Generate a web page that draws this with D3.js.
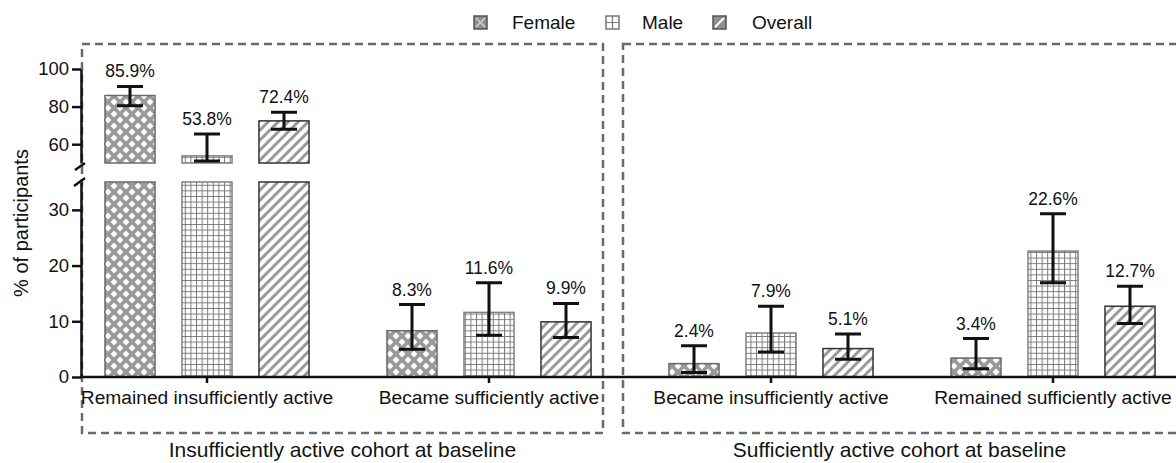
<!DOCTYPE html>
<html>
<head>
<meta charset="utf-8">
<script src="https://cdn.jsdelivr.net/npm/d3@7"></script>
<style>
  body { margin: 0; background: #fff; }
  text { font-family: "Liberation Sans", Arial, sans-serif; fill: #111; }
</style>
</head>
<body>
<div id="chart"></div>
<script>
// data
const categories = ["Remained insufficiently active", "Became sufficiently active",
                    "Became insufficiently active", "Remained sufficiently active"];
const series = ["Female", "Male", "Overall"];
const female = [85.9, 8.3, 2.4, 3.4];
const male = [53.8, 11.6, 7.9, 22.6];
const overall = [72.4, 9.9, 5.1, 12.7];
const femaleLo = [80.5, 5.0, 0.8, 1.5], femaleHi = [90.7, 13.0, 5.6, 6.9];
const maleLo = [51.0, 7.5, 4.5, 16.9], maleHi = [65.4, 16.9, 12.7, 29.3];
const overallLo = [67.9, 7.1, 3.2, 9.6], overallHi = [77.0, 13.2, 7.7, 16.3];
const cohorts = ["Insufficiently active cohort at baseline", "Sufficiently active cohort at baseline"];
const upperTicks = [60, 80, 100];
const lowerTicks = [0, 10, 20, 30];

const W = 1176, H = 463;

const svg = d3.select("#chart").append("svg")
    .attr("width", W).attr("height", H)
    .attr("viewBox", `0 0 ${W} ${H}`);

// table built from the arrays
const vals = { Female: female, Male: male, Overall: overall };
const los = { Female: femaleLo, Male: maleLo, Overall: overallLo };
const his = { Female: femaleHi, Male: maleHi, Overall: overallHi };
const rows = [];
categories.forEach((c, i) => series.forEach(s => rows.push({
    cat: c, s: s, v: vals[s][i], lo: los[s][i], hi: his[s][i]
})));

// scales: broken y axis (0-35 below, 50-100 above)
const axisX = 81;
const yLow = d3.scaleLinear().domain([0, 35]).range([377, 182]);
const yUp = d3.scaleLinear().domain([50, 100]).range([163, 69]);
const y = v => v > 35 ? yUp(Math.max(v, 50)) : yLow(v);

const x0 = d3.scaleBand().domain(categories).range([66, 1194]);
const x1 = d3.scaleBand().domain(series).range([-115.5, 115.5]).paddingInner(0.35).paddingOuter(0.175);
const cx = d => x0(d.cat) + x0.bandwidth() / 2;

// patterns
const defs = svg.append("defs");
const pf = defs.append("pattern").attr("id", "pf").attr("patternUnits", "userSpaceOnUse")
    .attr("width", 12).attr("height", 12);
pf.append("rect").attr("width", 12).attr("height", 12).attr("fill", "#999");
pf.append("path").attr("fill", "#fff")
    .attr("d", [[6, 6], [0, 0], [12, 0], [0, 12], [12, 12]]
        .map(([a, b]) => `M${a},${b - 3.4}L${a + 3.4},${b}L${a},${b + 3.4}L${a - 3.4},${b}Z`).join(""));

const pm = defs.append("pattern").attr("id", "pm").attr("patternUnits", "userSpaceOnUse")
    .attr("width", 5.6).attr("height", 5.6);
pm.append("rect").attr("width", 5.6).attr("height", 5.6).attr("fill", "#fff");
pm.append("path").attr("d", "M0.5,0V5.6M0,0.5H5.6").attr("stroke", "#7a7a7a").attr("stroke-width", 1);

const po = defs.append("pattern").attr("id", "po").attr("patternUnits", "userSpaceOnUse")
    .attr("width", 10).attr("height", 10);
po.append("rect").attr("width", 10).attr("height", 10).attr("fill", "#fff");
po.append("path").attr("d", "M-2,2L2,-2M0,10L10,0M8,12L12,8")
    .attr("stroke", "#999").attr("stroke-width", 3);

const fills = { Female: "url(#pf)", Male: "url(#pm)", Overall: "url(#po)" };
const strokes = { Female: "#6a6a6a", Male: "#808080", Overall: "#333" };

// dashed cohort boxes
const boxes = [[82, 603], [623, W + 10]];
svg.selectAll(".box").data(boxes).join("rect").attr("class", "box")
    .attr("x", d => d[0]).attr("y", 44)
    .attr("width", d => d[1] - d[0]).attr("height", 389)
    .attr("fill", "none").attr("stroke", "#6b6b6b")
    .attr("stroke-width", 2.5).attr("stroke-dasharray", "8,5");

svg.selectAll(".cohort").data(cohorts).join("text").attr("class", "cohort")
    .attr("x", (d, i) => (boxes[i][0] + Math.min(boxes[i][1], W)) / 2)
    .attr("y", 457).attr("text-anchor", "middle")
    .style("font-size", "21px").text(d => d);

// bars (two parts where the value crosses the break)
const bars = svg.append("g");
rows.forEach(d => {
    const bx = cx(d) + x1(d.s);
    const parts = d.v > 35 ? [[0, 35], [50, d.v]] : [[0, d.v]];
    parts.forEach(([a, b]) => {
        const sc = a >= 50 ? yUp : yLow;
        bars.append("rect")
            .attr("x", bx).attr("width", x1.bandwidth())
            .attr("y", sc(b)).attr("height", sc(a) - sc(b))
            .attr("fill", fills[d.s]).attr("stroke", strokes[d.s]).attr("stroke-width", 1.5);
    });
});

// error bars
const err = svg.append("g").attr("stroke", "#111").attr("stroke-width", 3).attr("fill", "none");
rows.forEach(d => {
    const mx = cx(d) + x1(d.s) + x1.bandwidth() / 2;
    err.append("path").attr("d",
        `M${mx},${y(d.lo)}V${y(d.hi)}M${mx - 13},${y(d.hi)}H${mx + 13}M${mx - 13},${y(d.lo)}H${mx + 13}`);
});

// value labels
svg.selectAll(".val").data(rows).join("text").attr("class", "val")
    .attr("x", d => cx(d) + x1(d.s) + x1.bandwidth() / 2)
    .attr("y", d => y(d.hi) - 9)
    .attr("text-anchor", "middle").style("font-size", "17.5px")
    .text(d => d.v.toFixed(1) + "%");

// y axes
function styleAxis(g) {
    g.selectAll("path, line").attr("stroke", "#111").attr("stroke-width", 2.5);
    g.selectAll("text").style("font-size", "18.5px").attr("fill", "#111");
}
svg.append("g").attr("transform", `translate(${axisX},0)`)
    .call(d3.axisLeft(yUp).tickValues(upperTicks).tickSize(9).tickSizeOuter(0).tickPadding(3))
    .call(styleAxis);
svg.append("g").attr("transform", `translate(${axisX},0)`)
    .call(d3.axisLeft(yLow).tickValues(lowerTicks).tickSize(9).tickSizeOuter(0).tickPadding(3))
    .call(styleAxis);

// break marks
svg.append("path").attr("d", `M${axisX - 6},170L${axisX + 4},163M${axisX - 7},186L${axisX + 4},178`)
    .attr("stroke", "#111").attr("stroke-width", 2.5);

// x axis
const xg = svg.append("g").attr("transform", "translate(0,377)")
    .call(d3.axisBottom(x0).tickSize(6).tickPadding(7))
    .call(g => g.select(".domain").remove());
xg.selectAll("line").attr("stroke", "#111").attr("stroke-width", 2.5);
xg.selectAll("text").style("font-size", "19.2px").attr("fill", "#111");
svg.append("line").attr("x1", axisX - 1).attr("x2", W).attr("y1", 377).attr("y2", 377)
    .attr("stroke", "#111").attr("stroke-width", 2.5);

// y title
svg.append("text").attr("transform", "rotate(-90)")
    .attr("x", -223).attr("y", 28).attr("text-anchor", "middle")
    .style("font-size", "20px").text("% of participants");

// legend
const legX = [474, 606, 713];
const leg = svg.append("g");
series.forEach((s, i) => {
    const g = leg.append("g").attr("transform", `translate(${legX[i]},16)`);
    if (s === "Female") {
        g.append("rect").attr("width", 13).attr("height", 13).attr("fill", "#8f8f8f").attr("stroke", "#555").attr("stroke-width", 1.5);
        g.append("path").attr("d", "M2,2L11,11M11,2L2,11").attr("stroke", "#d0d0d0").attr("stroke-width", 1.5);
    } else if (s === "Male") {
        g.append("rect").attr("width", 13).attr("height", 13).attr("fill", "#fff").attr("stroke", "#777").attr("stroke-width", 1.5);
        g.append("path").attr("d", "M6.5,0V13M0,6.5H13").attr("stroke", "#777").attr("stroke-width", 1.2);
    } else {
        g.append("rect").attr("width", 13).attr("height", 13).attr("fill", "#8f8f8f").attr("stroke", "#555").attr("stroke-width", 1.5);
        g.append("path").attr("d", "M2,11L11,2").attr("stroke", "#fff").attr("stroke-width", 2);
    }
    g.append("text").attr("x", i === 0 ? 38 : i === 1 ? 36 : 39).attr("y", 13)
        .style("font-size", "19px").text(s);
});
</script>
</body>
</html>
